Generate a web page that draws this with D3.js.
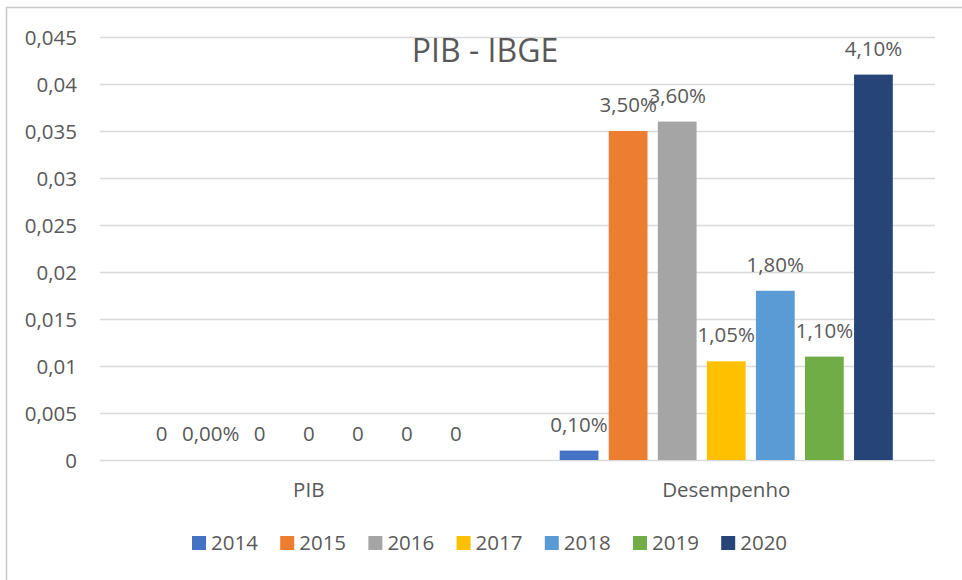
<!DOCTYPE html>
<html>
<head>
<meta charset="utf-8">
<script src="https://cdn.jsdelivr.net/npm/d3@7"></script>
<style>
  body { margin: 0; background: #fff; }
  text { font-family: "Open Sans", sans-serif; fill: #595959; }
</style>
</head>
<body>
<div id="chart"></div>
<script>
var svgWidth = 962;
var svgHeight = 580;

// chart data
var categories = ["PIB", "Desempenho"];
var years = ["2014", "2015", "2016", "2017", "2018", "2019", "2020"];
var pibValues = [0, 0, 0, 0, 0, 0, 0];
var desempenhoValues = [0.001, 0.035, 0.036, 0.0105, 0.018, 0.011, 0.041];
var pibLabels = ["0", "0,00%", "0", "0", "0", "0", "0"];
var yTicks = [0, 0.005, 0.01, 0.015, 0.02, 0.025, 0.03, 0.035, 0.04, 0.045];
var colors = ["#4472C4", "#ED7D31", "#A5A5A5", "#FFC000", "#5B9BD5", "#70AD47", "#264478"];

var margin = { top: 37, right: 27, bottom: 120, left: 100 };
var fontSize = "20.5px";

var locale = d3.formatLocale({ decimal: ",", thousands: ".", grouping: [3], currency: ["R$", ""] });
var tickFormat = locale.format("~f");
var pctFormat = locale.format(".2%");

var svg = d3.select("#chart")
  .append("svg")
  .attr("width", svgWidth)
  .attr("height", svgHeight);

// outer chart border
svg.append("rect")
  .attr("x", 6.5)
  .attr("y", 7.5)
  .attr("width", svgWidth)
  .attr("height", svgHeight)
  .attr("fill", "none")
  .attr("stroke", "#C8C8C8")
  .attr("stroke-width", 1.5);

var x0 = d3.scaleBand()
  .domain(categories)
  .range([margin.left, svgWidth - margin.right]);

var x1 = d3.scaleBand()
  .domain(years)
  .range([0, x0.bandwidth()])
  .paddingInner(0.21)
  .paddingOuter(0.86);

var y = d3.scaleLinear()
  .domain([0, 0.045])
  .range([460, margin.top]);

// gridlines
svg.append("g")
  .selectAll("line")
  .data(yTicks)
  .enter()
  .append("line")
  .attr("x1", margin.left)
  .attr("x2", svgWidth - margin.right)
  .attr("y1", d => Math.round(y(d)) + 0.5)
  .attr("y2", d => Math.round(y(d)) + 0.5)
  .attr("stroke", "#D9D9D9")
  .attr("stroke-width", 1.5);

// y axis labels
var leftAxis = d3.axisLeft(y).tickValues(yTicks).tickFormat(tickFormat).tickSize(0).tickPadding(0);
var yAxis = svg.append("g")
  .attr("transform", "translate(77,0)")
  .call(leftAxis);
yAxis.select(".domain").remove();
yAxis.selectAll("text")
  .attr("font-size", fontSize)
  .attr("font-family", "Open Sans, sans-serif")
  .attr("fill", "#595959")
  .attr("dy", "0.35em");

// title
svg.append("text")
  .attr("x", 485)
  .attr("y", 62)
  .attr("text-anchor", "middle")
  .attr("font-size", "32px")
  .text("PIB - IBGE");

var series = [
  { cat: "PIB", values: pibValues, labels: pibLabels },
  { cat: "Desempenho", values: desempenhoValues, labels: desempenhoValues.map(d => pctFormat(d)) }
];

var groups = svg.selectAll(".cat")
  .data(series)
  .enter()
  .append("g")
  .attr("class", "cat")
  .attr("transform", d => `translate(${x0(d.cat)},0)`);

groups.selectAll("rect")
  .data(d => d.values.map((v, i) => ({ year: years[i], value: v, i: i })))
  .enter()
  .append("rect")
  .attr("x", d => x1(d.year))
  .attr("width", x1.bandwidth())
  .attr("y", d => y(d.value))
  .attr("height", d => y(0) - y(d.value))
  .attr("fill", d => colors[d.i]);

groups.selectAll("text.lbl")
  .data(d => d.values.map((v, i) => ({ year: years[i], value: v, label: d.labels[i] })))
  .enter()
  .append("text")
  .attr("class", "lbl")
  .attr("x", d => x1(d.year) + x1.bandwidth() / 2)
  .attr("y", d => y(d.value) - 19)
  .attr("text-anchor", "middle")
  .attr("font-size", fontSize)
  .text(d => d.label);

// category labels
svg.append("g")
  .selectAll("text")
  .data(categories)
  .enter()
  .append("text")
  .attr("x", d => x0(d) + x0.bandwidth() / 2)
  .attr("y", 497)
  .attr("text-anchor", "middle")
  .attr("font-size", fontSize)
  .text(d => d);

// legend
var legend = svg.append("g")
  .selectAll("g")
  .data(years)
  .enter()
  .append("g")
  .attr("transform", (d, i) => `translate(${192 + i * 88.2},0)`);

legend.append("rect")
  .attr("x", 0)
  .attr("y", 536)
  .attr("width", 14)
  .attr("height", 14)
  .attr("fill", (d, i) => colors[i]);

legend.append("text")
  .attr("x", 19)
  .attr("y", 550)
  .attr("font-size", fontSize)
  .text(d => d);
</script>
</body>
</html>
